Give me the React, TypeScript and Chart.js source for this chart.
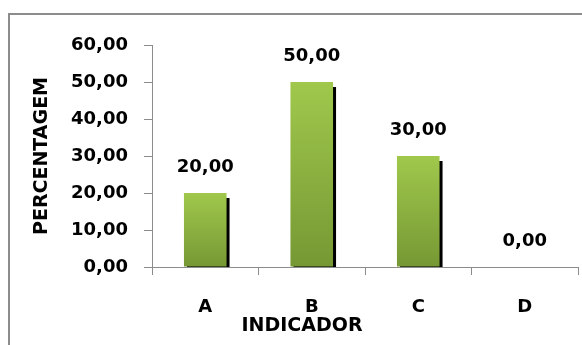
import React, { useEffect, useRef } from "react";
import { Chart, registerables } from "chart.js";

Chart.register(...registerables);

const categories = ["A", "B", "C", "D"];
const values = [20, 50, 30, 0];
const valueLabels = ["20,00", "50,00", "30,00", "0,00"];
const yTicks = [0, 10, 20, 30, 40, 50, 60];
const yTitle = "PERCENTAGEM";
const xTitle = "INDICADOR";

const FONT = "'DejaVu Sans', sans-serif";
const fmt = (v: number) => v.toFixed(2).replace(".", ",");

export default function App() {
  const ref = useRef<HTMLCanvasElement | null>(null);

  useEffect(() => {
    const canvas = ref.current;
    if (!canvas) return;

    const framePlugin = {
      id: "frame",
      beforeDraw(chart: any) {
        const ctx = chart.ctx;
        ctx.save();
        ctx.strokeStyle = "#8c8c8c";
        ctx.lineWidth = 2;
        ctx.beginPath();
        ctx.moveTo(9, chart.height + 2);
        ctx.lineTo(9, 14);
        ctx.lineTo(chart.width + 2, 14);
        ctx.stroke();
        ctx.restore();
      },
    };

    const shadowPlugin = {
      id: "barShadow",
      beforeDatasetsDraw(chart: any) {
        const ctx = chart.ctx;
        const meta = chart.getDatasetMeta(0);
        const base = chart.scales.y.getPixelForValue(0);
        ctx.save();
        ctx.fillStyle = "#000000";
        meta.data.forEach((bar: any) => {
          const { x, y, width } = bar.getProps(["x", "y", "width"], true);
          const top = y + 5;
          if (base - top > 0) {
            ctx.fillRect(x - width / 2 + 3, top, width, base - top);
          }
        });
        ctx.restore();
      },
    };

    const labelPlugin = {
      id: "valueLabels",
      afterDatasetsDraw(chart: any) {
        const ctx = chart.ctx;
        const meta = chart.getDatasetMeta(0);
        ctx.save();
        ctx.fillStyle = "#000000";
        ctx.font = `bold 18px ${FONT}`;
        ctx.textAlign = "center";
        ctx.textBaseline = "middle";
        meta.data.forEach((bar: any, i: number) => {
          const { x, y } = bar.getProps(["x", "y"], true);
          ctx.fillText(valueLabels[i], x, y - 26);
        });
        ctx.restore();
      },
    };

    const xTitlePlugin = {
      id: "xTitle",
      afterDraw(chart: any) {
        const ctx = chart.ctx;
        const xs = chart.scales.x;
        ctx.save();
        ctx.fillStyle = "#000000";
        ctx.font = `bold 19px ${FONT}`;
        ctx.textAlign = "center";
        ctx.textBaseline = "middle";
        ctx.fillText(xTitle, (xs.left + xs.right) / 2 - 63, 326);
        ctx.restore();
      },
    };

    const chart = new Chart(canvas, {
      type: "bar",
      data: {
        labels: categories,
        datasets: [
          {
            data: values,
            backgroundColor: (c: any) => {
              const ys = c.chart.scales.y;
              if (!ys || c.parsed == null) return "#8ab040";
              const top = ys.getPixelForValue(c.parsed.y);
              const bottom = ys.getPixelForValue(0);
              if (!(bottom - top > 0)) return "#8ab040";
              const g = c.chart.ctx.createLinearGradient(0, top, 0, bottom);
              g.addColorStop(0, "#a0c84c");
              g.addColorStop(1, "#769834");
              return g;
            },
            borderWidth: 0,
            categoryPercentage: 1,
            barPercentage: 0.4,
          },
        ],
      },
      options: {
        animation: false,
        responsive: false,
        maintainAspectRatio: false,
        layout: { padding: { left: 0, top: 45, right: 4, bottom: 0 } },
        plugins: {
          legend: { display: false },
          tooltip: { enabled: false },
        },
        scales: {
          x: {
            offset: true,
            afterFit: (s: any) => {
              s.height = 78;
            },
            grid: {
              offset: true,
              drawOnChartArea: false,
              drawTicks: true,
              tickLength: 8,
              color: "#8c8c8c",
            },
            border: { color: "#8c8c8c", width: 1 },
            ticks: {
              color: "#000000",
              padding: 22,
              font: { family: FONT, size: 18, weight: "bold" },
            },
          },
          y: {
            min: 0,
            max: 60,
            afterFit: (s: any) => {
              s.width = 152;
            },
            afterBuildTicks: (s: any) => {
              s.ticks = yTicks.map((v) => ({ value: v }));
            },
            grid: {
              drawOnChartArea: false,
              drawTicks: true,
              tickLength: 8,
              color: "#8c8c8c",
            },
            border: { color: "#8c8c8c", width: 1 },
            ticks: {
              color: "#000000",
              padding: 16,
              font: { family: FONT, size: 18, weight: "bold" },
              callback: (v: any) => fmt(Number(v)),
            },
            title: {
              display: true,
              text: yTitle,
              color: "#000000",
              padding: { top: 31, bottom: 0 },
              font: { family: FONT, size: 19, weight: "bold" },
            },
          },
        },
      },
      plugins: [framePlugin, shadowPlugin, labelPlugin, xTitlePlugin],
    } as any);

    return () => chart.destroy();
  }, []);

  return (
    <div style={{ position: "fixed", left: 0, top: 0, width: 582, height: 345, background: "#ffffff" }}>
      <canvas ref={ref} width={582} height={345} style={{ display: "block", width: 582, height: 345 }} />
    </div>
  );
}
